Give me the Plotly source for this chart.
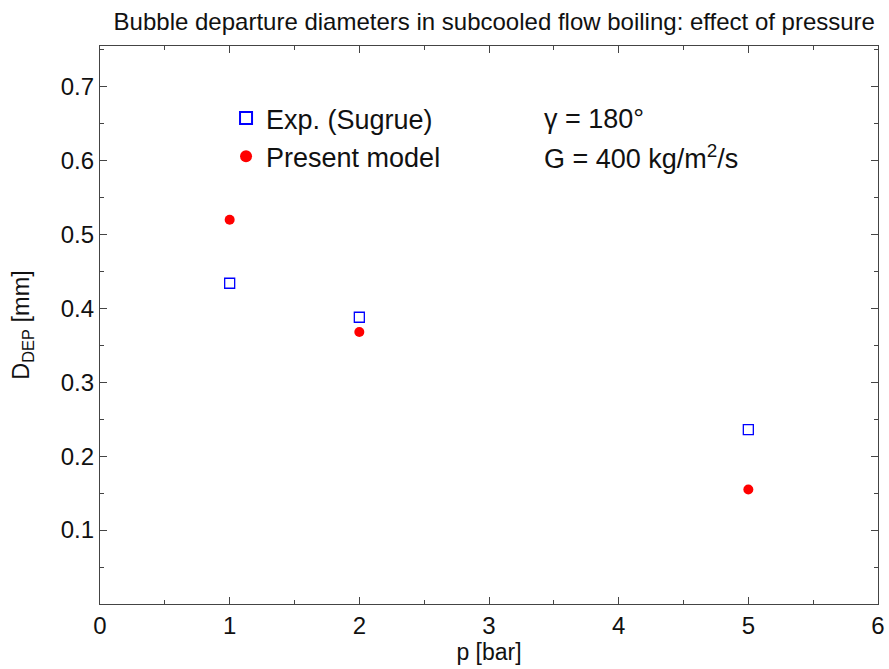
import plotly.graph_objects as go

pressure = [1, 2, 5]
exp_sugrue = [0.434, 0.388, 0.236]
present_model = [0.520, 0.368, 0.155]

FONT = "Liberation Sans, Arial, Helvetica, sans-serif"

fig = go.Figure()
fig.add_trace(go.Scatter(
    x=pressure, y=exp_sugrue, mode="markers", name="Exp. (Sugrue)",
    marker=dict(symbol="square-open", size=10, color="#0000ff", line=dict(width=1.3, color="#0000ff")),
))
fig.add_trace(go.Scatter(
    x=pressure, y=present_model, mode="markers", name="Present model",
    marker=dict(symbol="circle", size=10, color="#ff0000"),
))

axis_common = dict(
    showgrid=False, zeroline=False, showline=True, linecolor="#444", linewidth=1.3,
    mirror="allticks", ticks="inside", ticklen=7, tickwidth=1.2, tickcolor="#444",
    tickfont=dict(size=24, family=FONT, color="#111"), automargin=False,
)

fig.update_layout(
    width=889, height=669,
    margin=dict(l=100, r=11, t=46, b=65),
    paper_bgcolor="white", plot_bgcolor="white",
    font=dict(family=FONT, color="#111"),
    title=dict(text="Bubble departure diameters in subcooled flow boiling: effect of pressure",
               x=0.556, xanchor="center", xref="container", y=0.967, yanchor="middle",
               font=dict(size=24, family=FONT, color="#111"), automargin=False),
    xaxis=dict(range=[0, 6], dtick=1, tick0=0,
               minor=dict(dtick=0.5, ticks="inside", ticklen=4, tickcolor="#444"),
               title=dict(text="p [bar]", font=dict(size=23, family=FONT), standoff=0),
               **axis_common),
    yaxis=dict(range=[0, 0.755], tickvals=[0.1, 0.2, 0.3, 0.4, 0.5, 0.6, 0.7],
               ticktext=["0.1", "0.2", "0.3", "0.4", "0.5", "0.6", "0.7"],
               minor=dict(dtick=0.05, ticks="inside", ticklen=4, tickcolor="#444"),
               title=dict(text="D<sub>DEP</sub> [mm]", font=dict(size=23.5, family=FONT), standoff=24),
               **axis_common),
    legend=dict(x=0.162, y=0.914, xanchor="left", yanchor="top",
                bgcolor="rgba(0,0,0,0)", font=dict(size=27, family=FONT, color="#111"),
                itemsizing="constant", tracegroupgap=0),
    showlegend=True,
)

fig.add_annotation(x=0.568, y=0.869, xref="paper", yref="paper", xanchor="left", yanchor="middle",
                   text="γ = 180°", showarrow=False, font=dict(size=27, family=FONT, color="#111"))
fig.add_annotation(x=0.568, y=0.801, xref="paper", yref="paper", xanchor="left", yanchor="middle",
                   text="G = 400 kg/m<sup>2</sup>/s", showarrow=False, font=dict(size=27, family=FONT, color="#111"))

fig.write_html("out.html")
